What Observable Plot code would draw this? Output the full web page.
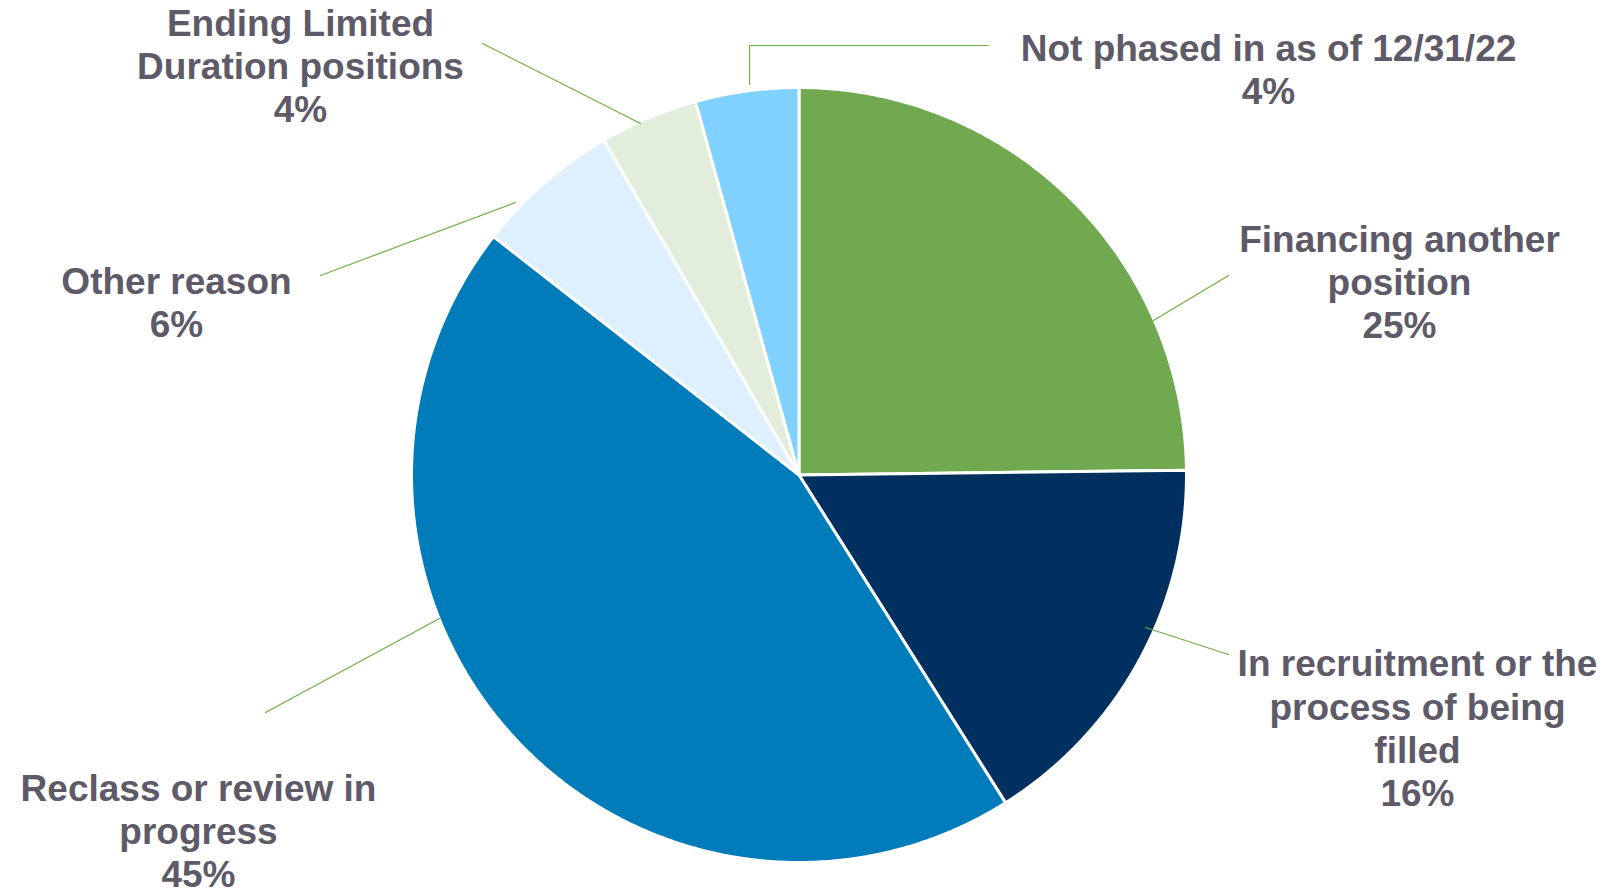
<!DOCTYPE html>
<html>
<head>
<meta charset="utf-8">
<script src="https://cdn.jsdelivr.net/npm/d3@7"></script>
<script src="https://cdn.jsdelivr.net/npm/@observablehq/plot@0.6"></script>
<style>
  html, body { margin: 0; padding: 0; background: #ffffff; }
  #chart svg { display: block; overflow: visible; }
</style>
</head>
<body>
<div id="chart"></div>
<script>
// ---- Data (clockwise from 12 o'clock) ----
const categories = [
  "Financing another position",
  "In recruitment or the process of being filled",
  "Reclass or review in progress",
  "Other reason",
  "Ending Limited Duration positions",
  "Not phased in as of 12/31/22"
];
const shares = [24.8, 16.25, 44.5, 6.05, 4.1, 4.3];

// ---- Presentation / layout ----
const sliceColors = ["#70A94F", "#00305F", "#007CBA", "#DEEFFE", "#E2EDDC", "#80D1FF"];
const wrappedNames = [
  "Financing another\nposition",
  "In recruitment or the\nprocess of being\nfilled",
  "Reclass or review in\nprogress",
  "Other reason",
  "Ending Limited\nDuration positions",
  "Not phased in as of 12/31/22"
];
const W = 1608, H = 890;
const CX = 798.5, CY = 474.5, R = 387.5;   // pie centre and radius (px)
// label block centres, offsets from pie centre (px)
const labelOffsets = [
  [600.5, -194], [618.5, 252.5], [-600.5, 355], [-622.5, -173.5], [-498.5, -410], [469.5, -406.5]
];
// leader line paths, offsets from pie centre (px)
const leaderPaths = [
  [[354.5, -154.5], [429.5, -199.5]],
  [[346.5, 152.5], [429.5, 179.5]],
  [[-359.5, 143.5], [-533.5, 237.5]],
  [[-283.5, -272.5], [-478.5, -199.5]],
  [[-158.5, -351.5], [-316.5, -431.5]],
  [[-49.5, -390.5], [-49.5, -429.5], [189.5, -429.5]]
];

// ---- Build geometry from the data ----
const rows = categories.map((c, i) => ({key: c, value: shares[i]}));
const arcs = d3.pie().sort(null).value(d => d.value).startAngle(0).endAngle(2 * Math.PI)(rows);

const slicePts = [];
arcs.forEach(a => {
  const key = a.data.key;
  slicePts.push({key, x: 0, y: 0});
  const n = Math.max(4, Math.ceil((a.endAngle - a.startAngle) / (Math.PI / 360)));
  for (let k = 0; k <= n; k++) {
    const t = a.startAngle + (a.endAngle - a.startAngle) * k / n;
    slicePts.push({key, x: R * Math.sin(t), y: -R * Math.cos(t)});
  }
  slicePts.push({key, x: 0, y: 0});
});

const labels = rows.map((d, i) => ({
  x: labelOffsets[i][0],
  y: labelOffsets[i][1],
  text: wrappedNames[i] + "\n" + Math.round(d.value) + "%"
}));

const leaders = [];
leaderPaths.forEach((p, i) => p.forEach(([x, y]) => leaders.push({key: categories[i], x, y})));

const chart = Plot.plot({
  width: W,
  height: H,
  margin: 0,
  style: {background: "#ffffff"},
  x: {domain: [-CX, W - CX], range: [0, W], axis: null},
  y: {domain: [-CY, H - CY], range: [0, H], axis: null},
  color: {domain: categories, range: sliceColors},
  marks: [
    Plot.line(slicePts, {
      x: "x", y: "y", z: "key", fill: "key",
      stroke: "#ffffff", strokeWidth: 3, strokeLinejoin: "round", curve: "linear"
    }),
    Plot.line(leaders, {x: "x", y: "y", z: "key", stroke: "#70AD47", strokeWidth: 1.2}),
    Plot.text(labels, {
      x: "x", y: "y", text: "text",
      fontSize: 37, fontWeight: 700,
      fontFamily: "'Liberation Sans', Arial, sans-serif",
      fill: "#5E5A68",
      lineHeight: 1.17,
      lineAnchor: "middle",
      textAnchor: "middle"
    })
  ]
});
document.getElementById("chart").appendChild(chart);
</script>
</body>
</html>
